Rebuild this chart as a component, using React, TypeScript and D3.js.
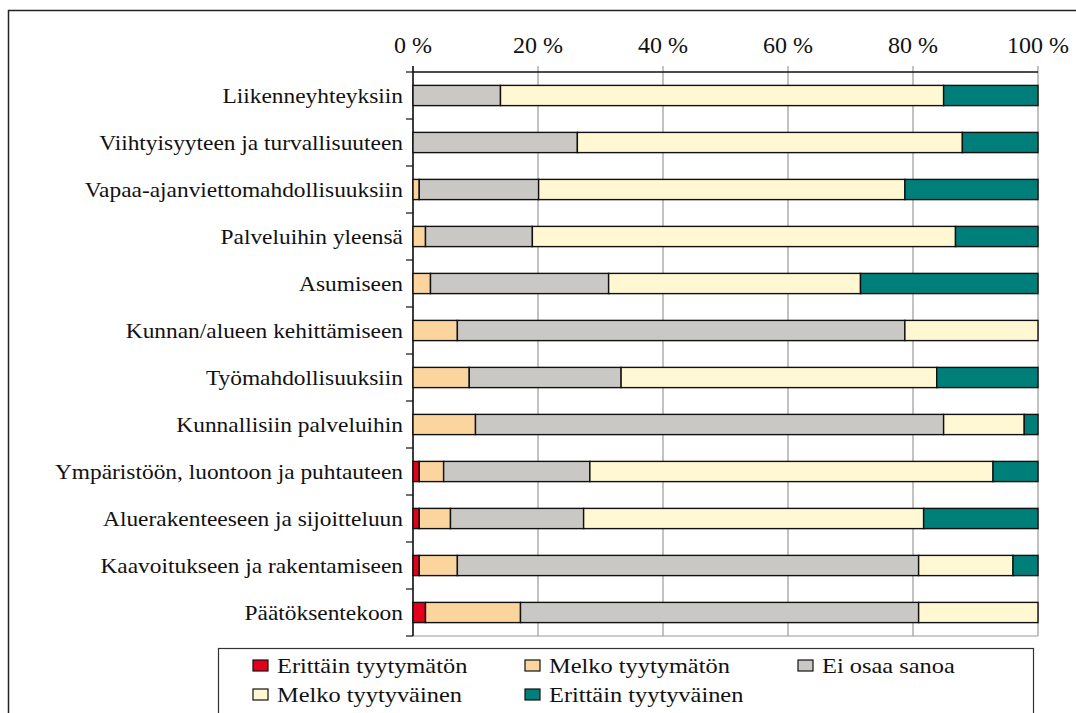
import React from "react";
import * as d3 from "d3";

const categories = [
  "Liikenneyhteyksiin",
  "Viihtyisyyteen ja turvallisuuteen",
  "Vapaa-ajanviettomahdollisuuksiin",
  "Palveluihin yleensä",
  "Asumiseen",
  "Kunnan/alueen kehittämiseen",
  "Työmahdollisuuksiin",
  "Kunnallisiin palveluihin",
  "Ympäristöön, luontoon ja puhtauteen",
  "Aluerakenteeseen ja sijoitteluun",
  "Kaavoitukseen ja rakentamiseen",
  "Päätöksentekoon",
];

const seriesNames = [
  "Erittäin tyytymätön",
  "Melko tyytymätön",
  "Ei osaa sanoa",
  "Melko tyytyväinen",
  "Erittäin tyytyväinen",
];
const seriesColors = ["#E2001A", "#FBD49E", "#C9C8C4", "#FFF8D2", "#007E7A"];

const erittainTyytymaton = [0, 0, 0, 0, 0, 0, 0, 0, 1.0, 1.0, 1.0, 2.0];
const melkoTyytymaton = [0, 0, 1.0, 2.0, 2.8, 7.1, 9.0, 10.0, 3.9, 5.0, 6.1, 15.2];
const eiOsaaSanoa = [14.0, 26.3, 19.1, 17.1, 28.5, 71.6, 24.3, 74.9, 23.4, 21.3, 73.8, 63.7];
const melkoTyytyvainen = [70.9, 61.6, 58.6, 67.7, 40.3, 21.3, 50.5, 12.9, 64.5, 54.4, 15.1, 19.1];
const erittainTyytyvainen = [15.1, 12.1, 21.3, 13.2, 28.4, 0, 16.2, 2.2, 7.2, 18.3, 4.0, 0];

const tickValues = [0, 20, 40, 60, 80, 100];
const tickLabels = ["0 %", "20 %", "40 %", "60 %", "80 %", "100 %"];

const W = 1076;
const H = 713;
const plotLeft = 413;
const plotRight = 1038;
const plotTop = 72;
const plotBottom = 636;
const serif = "'Liberation Serif', 'Times New Roman', serif";

export default function App() {
  const x = d3.scaleLinear().domain([0, 100]).range([plotLeft, plotRight]);
  const y = d3
    .scaleBand<string>()
    .domain(categories)
    .range([plotTop, plotBottom])
    .paddingInner(0.57)
    .paddingOuter(0.285);

  const table = categories.map((c, i) => ({
    cat: c,
    s0: erittainTyytymaton[i],
    s1: melkoTyytymaton[i],
    s2: eiOsaaSanoa[i],
    s3: melkoTyytyvainen[i],
    s4: erittainTyytyvainen[i],
  }));
  const keys = ["s0", "s1", "s2", "s3", "s4"];
  const stacked = d3.stack<any>().keys(keys)(table);

  const step = y.step();
  const boundaries = d3.range(categories.length + 1).map((i) => plotTop + i * step);

  const legendCols = [253, 525, 798];
  const legendRows = [666, 695];
  const legendItems = seriesNames.map((n, i) => ({
    name: n,
    color: seriesColors[i],
    col: i < 3 ? i : i - 3,
    row: i < 3 ? 0 : 1,
  }));

  const ts: React.CSSProperties = { fontFamily: serif };

  return (
    <svg width={W} height={H} style={{ position: "absolute", left: 0, top: 0, background: "#fff" }}>
      <rect x={0} y={0} width={W} height={H} fill="#fff" />
      {/* outer frame */}
      <rect x={8.5} y={10.5} width={1200} height={900} fill="none" stroke="#222" strokeWidth={1.5} />

      {/* gridlines */}
      {tickValues.map((t) => (
        <line
          key={"g" + t}
          x1={x(t)}
          x2={x(t)}
          y1={plotTop - 6}
          y2={plotBottom}
          stroke="#9a9a9a"
          strokeWidth={1.2}
        />
      ))}
      <line x1={plotLeft} x2={plotRight} y1={plotBottom} y2={plotBottom} stroke="#9a9a9a" strokeWidth={1.2} />
      <line x1={plotLeft} x2={plotRight} y1={plotTop} y2={plotTop} stroke="#111" strokeWidth={1.5} />
      <line x1={plotLeft} x2={plotLeft} y1={plotTop - 6} y2={plotBottom} stroke="#111" strokeWidth={1.5} />
      {boundaries.map((b, i) => (
        <line key={"lt" + i} x1={plotLeft - 7} x2={plotLeft} y1={b} y2={b} stroke="#111" strokeWidth={1.2} />
      ))}

      {/* tick labels */}
      {tickValues.map((t, i) => (
        <text key={"t" + t} x={x(t)} y={53} fontSize={24} textAnchor="middle" fill="#111" style={ts}>
          {tickLabels[i]}
        </text>
      ))}

      {/* bars */}
      {stacked.map((layer, si) =>
        layer.map((d, ci) => {
          const w = x(d[1]) - x(d[0]);
          if (w <= 0.01) return null;
          return (
            <rect
              key={si + "-" + ci}
              x={x(d[0])}
              y={y(categories[ci])}
              width={w}
              height={y.bandwidth()}
              fill={seriesColors[si]}
              stroke="#111"
              strokeWidth={1.4}
            />
          );
        })
      )}

      {/* category labels */}
      {categories.map((c) => (
        <g key={c} transform={`translate(403,${(y(c) || 0) + y.bandwidth() / 2}) scale(1.17,1)`}>
          <text x={0} y={0} dy="0.35em" fontSize={20} textAnchor="end" fill="#111" style={ts}>
            {c}
          </text>
        </g>
      ))}

      {/* legend */}
      <rect x={218.5} y={648.5} width={815} height={200} fill="#fff" stroke="#333" strokeWidth={1.2} />
      {legendItems.map((it) => {
        const lx = legendCols[it.col];
        const ly = legendRows[it.row];
        return (
          <g key={it.name}>
            <rect x={lx} y={ly - 6} width={15} height={11} fill={it.color} stroke="#111" strokeWidth={1.2} />
            <g transform={`translate(${lx + 24},${ly}) scale(1.22,1)`}>
              <text x={0} y={0} dy="0.35em" fontSize={20} fill="#111" style={ts}>
                {it.name}
              </text>
            </g>
          </g>
        );
      })}
    </svg>
  );
}
